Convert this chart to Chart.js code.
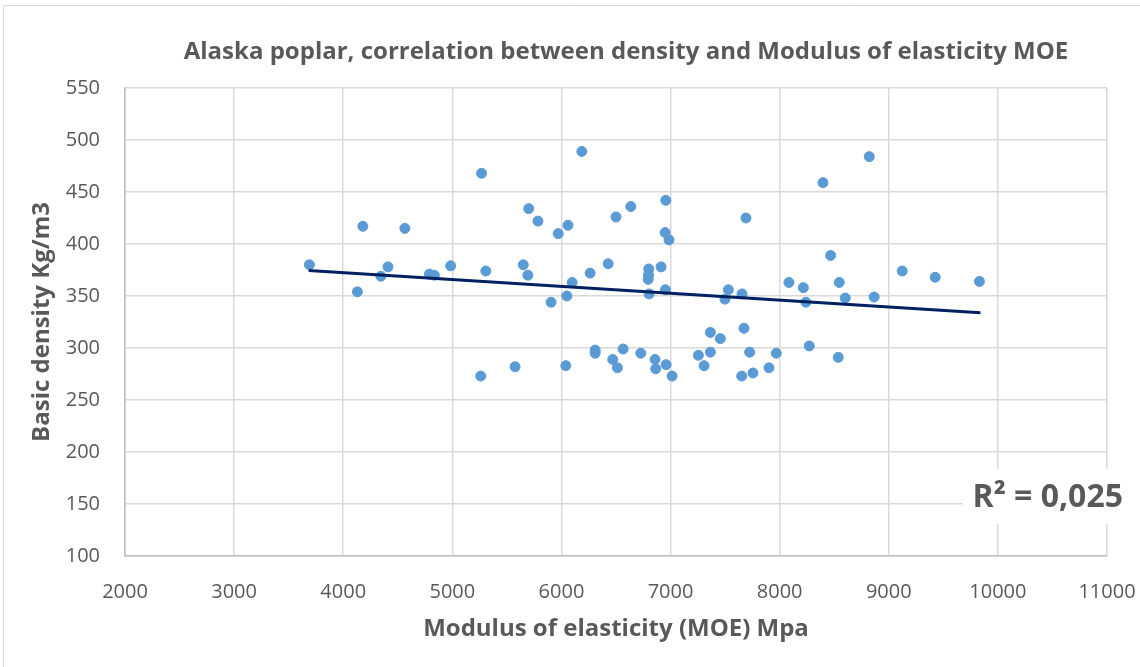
<!DOCTYPE html>
<html>
<head>
<meta charset="utf-8">
<script src="https://cdn.jsdelivr.net/npm/chart.js@4"></script>
<style>
  html, body { margin: 0; padding: 0; background: #fff; }
  #wrap { width: 1140px; height: 667px; position: relative; }
</style>
</head>
<body>
<div id="wrap"><canvas id="moeChart"></canvas></div>
<script>
const moeValues = [
  3690, 4180, 4565, 4130, 4345, 4410, 4790, 4835, 4985, 5268,
  5307, 5260, 5575, 5700, 5785, 5650, 5692, 5905, 5970, 6060,
  6050, 6098, 6040, 6187, 6263, 6428, 6500, 6636, 6309, 6309,
  6470, 6513, 6565, 6727, 6800, 6798, 6795, 6803, 6913, 6956,
  6950, 6986, 6953, 6858, 6864, 6959, 7014, 7255, 7307, 7365,
  7365, 7456, 7499, 7530, 7655, 7673, 7691, 7725, 7652, 7755,
  7902, 7969, 8085, 8217, 8241, 8271, 8397, 8467, 8546, 8601,
  8537, 8821, 8866, 9123, 9425, 9831
];
const densityValues = [
  380, 417, 415, 354, 369, 378, 371, 370, 379, 468,
  374, 273, 282, 434, 422, 380, 370, 344, 410, 418,
  350, 363, 283, 489, 372, 381, 426, 436, 298, 295,
  289, 281, 299, 295, 376, 370, 366, 352, 378, 442,
  411, 404, 356, 289, 280, 284, 273, 293, 283, 296,
  315, 309, 347, 356, 352, 319, 425, 296, 273, 276,
  281, 295, 363, 358, 344, 302, 459, 389, 363, 348,
  291, 484, 349, 374, 368, 364
];
// Excel linear trendline, start and end
const trendX = [3683, 9840];
const trendY = [374.5, 334];
const r2Label = 'R² = 0,025';
const r2Pos = [10457, 155.5];

const xTicks = [2000, 3000, 4000, 5000, 6000, 7000, 8000, 9000, 10000, 11000];
const yTicks = [100, 150, 200, 250, 300, 350, 400, 450, 500, 550];

const chartTitle = 'Alaska poplar, correlation between density and Modulus of elasticity MOE';
const fontFam = "'Open Sans', sans-serif";
const textGray = '#595959';

const points = moeValues.map((x, i) => ({ x: x, y: densityValues[i] }));
const trend = trendX.map((x, i) => ({ x: x, y: trendY[i] }));

// title, drawn by hand so it sits a bit right of centre like Excel's
const titlePlugin = {
  id: 'titlePlugin',
  afterDraw(chart) {
    const ctx = chart.ctx;
    const a = chart.chartArea;
    ctx.save();
    ctx.font = 'bold 24px ' + fontFam;
    ctx.fillStyle = textGray;
    ctx.textAlign = 'center';
    ctx.textBaseline = 'middle';
    ctx.fillText(chartTitle, (a.left + a.right) / 2 + 10, 52);
    ctx.restore();
  }
};

const r2Plugin = {
  id: 'r2Plugin',
  afterDatasetsDraw(chart) {
    const ctx = chart.ctx;
    const px = chart.scales.x.getPixelForValue(r2Pos[0]);
    const py = chart.scales.y.getPixelForValue(r2Pos[1]);
    ctx.save();
    ctx.font = 'bold 32px ' + fontFam;
    const w = ctx.measureText(r2Label).width;
    ctx.fillStyle = '#fff';
    ctx.fillRect(px - w / 2 - 10, py - 29, w + 20, 55);
    ctx.fillStyle = textGray;
    ctx.textAlign = 'center';
    ctx.textBaseline = 'middle';
    ctx.fillText(r2Label, px, py);
    ctx.restore();
  }
};

const borderPlugin = {
  id: 'borderPlugin',
  beforeDraw(chart) {
    const ctx = chart.ctx;
    ctx.save();
    ctx.strokeStyle = '#d9d9d9';
    ctx.lineWidth = 1;
    ctx.beginPath();
    ctx.moveTo(3.5, 667);
    ctx.lineTo(3.5, 5.5);
    ctx.lineTo(1140, 5.5);
    ctx.stroke();
    ctx.restore();
  }
};

const ctxMoe = document.getElementById('moeChart');

const configMoe = {
  type: 'scatter',
  data: {
    datasets: [{
      label: 'Density',
      data: points,
      backgroundColor: '#5b9bd5',
      borderColor: '#5b9bd5',
      pointRadius: 5,
      pointHoverRadius: 5,
      order: 2
    }, {
      label: 'Linear trend',
      type: 'line',
      data: trend,
      borderColor: '#002060',
      borderWidth: 3,
      pointRadius: 0,
      fill: false,
      order: 1
    }]
  },
  options: {
    responsive: false,
    animation: false,
    layout: {
      padding: { left: 0, right: 33, top: 88, bottom: 0 }
    },
    plugins: {
      legend: { display: false },
      tooltip: { enabled: false },
      title: { display: false }
    },
    scales: {
      x: {
        type: 'linear',
        min: 2000,
        max: 11000,
        afterBuildTicks: (s) => { s.ticks = xTicks.map(v => ({ value: v })); },
        afterFit: (s) => { s.height = 111; s.paddingLeft = 0; s.paddingRight = 0; },
        ticks: {
          color: textGray,
          padding: 24,
          font: { family: fontFam, size: 20 },
          callback: (v) => String(v)
        },
        grid: { color: '#d9d9d9', lineWidth: 1.5, drawTicks: false },
        border: { color: '#bfbfbf', width: 1.5 },
        title: {
          display: true,
          text: 'Modulus of elasticity (MOE) Mpa',
          color: textGray,
          font: { family: fontFam, size: 24, weight: 'bold' },
          padding: { top: 0, bottom: 23 }
        }
      },
      y: {
        min: 100,
        max: 550,
        afterBuildTicks: (s) => { s.ticks = yTicks.map(v => ({ value: v })); },
        afterFit: (s) => { s.width = 125; s.paddingTop = 0; s.paddingBottom = 0; },
        ticks: {
          color: textGray,
          padding: 25,
          font: { family: fontFam, size: 20 },
          callback: (v) => String(v)
        },
        grid: { color: '#d9d9d9', lineWidth: 1.5, drawTicks: false },
        border: { color: '#bfbfbf', width: 1.5 },
        title: {
          display: true,
          text: 'Basic density Kg/m3',
          color: textGray,
          font: { family: fontFam, size: 24, weight: 'bold' },
          padding: { top: 28, bottom: 0 }
        }
      }
    }
  },
  plugins: [borderPlugin, r2Plugin, titlePlugin]
};

ctxMoe.width = 1140;
ctxMoe.height = 667;
const scatterMoe = new Chart(ctxMoe, configMoe);
</script>
</body>
</html>
